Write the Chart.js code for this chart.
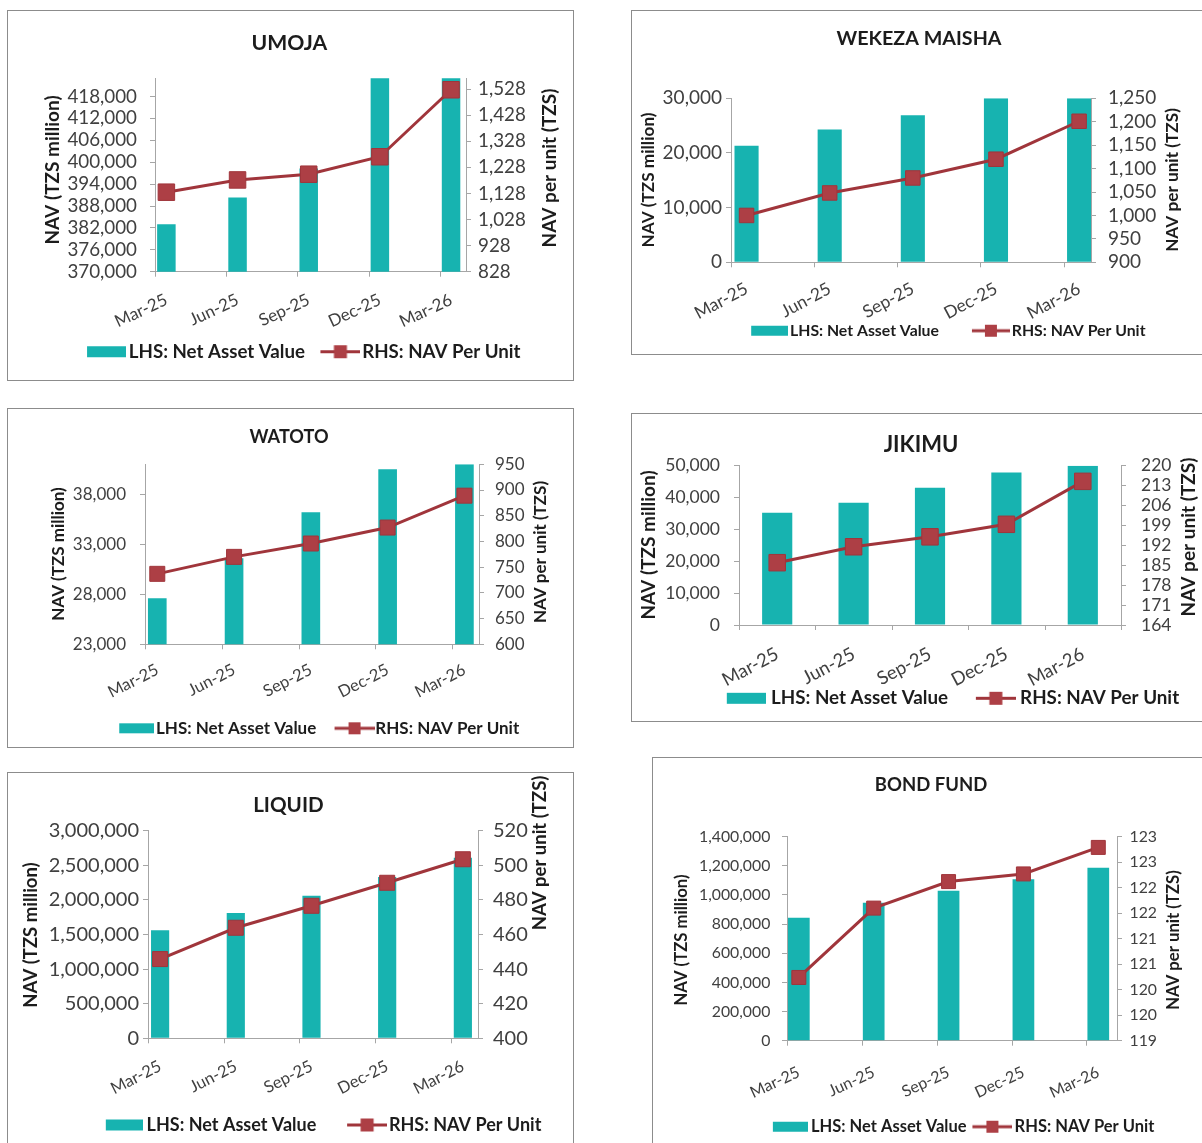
<!DOCTYPE html>
<html><head><meta charset="utf-8">
<script src="https://cdn.jsdelivr.net/npm/chart.js@4.4.1/dist/chart.umd.min.js"></script>
<style>
html,body{margin:0;padding:0;background:#fff;}
body{width:1202px;height:1143px;overflow:hidden;position:relative;}
.box{position:absolute;border:1px solid #8c8c8c;box-sizing:border-box;background:#fff;}
.box canvas{position:absolute;left:0;top:0;}
</style></head><body>
<script>
// ---------- DATA ----------
const categories = ['Mar-25', 'Jun-25', 'Sep-25', 'Dec-25', 'Mar-26'];

const umojaNAV  = [383000, 390300, 398300, 425000, 430000];
const umojaUnit = [1133, 1180, 1202, 1269, 1526];
const umojaLeftTicks  = [370000, 376000, 382000, 388000, 394000, 400000, 406000, 412000, 418000];
const umojaRightTicks = [828, 928, 1028, 1128, 1228, 1328, 1428, 1528];

const wekezaNAV  = [21300, 24300, 26900, 30000, 30000];
const wekezaUnit = [1000, 1048, 1080, 1120, 1201];
const wekezaLeftTicks  = [0, 10000, 20000, 30000];
const wekezaRightTicks = [900, 950, 1000, 1050, 1100, 1150, 1200, 1250];

const watotoNAV  = [27600, 31600, 36200, 40500, 41000];
const watotoUnit = [737, 770, 796, 827, 889];
const watotoLeftTicks  = [23000, 28000, 33000, 38000];
const watotoRightTicks = [600, 650, 700, 750, 800, 850, 900, 950];

const jikimuNAV  = [35200, 38400, 43100, 47900, 50000];
const jikimuUnit = [185.9, 191.5, 195.0, 199.4, 214.5];
const jikimuLeftTicks  = [0, 10000, 20000, 30000, 40000, 50000];
const jikimuRightTicks = [164, 171, 178, 185, 192, 199, 206, 213, 220];

const liquidNAV  = [1560000, 1810000, 2060000, 2330000, 2610000];
const liquidUnit = [445.8, 463.9, 476.6, 489.9, 503.5];
const liquidLeftTicks  = [0, 500000, 1000000, 1500000, 2000000, 2500000, 3000000];
const liquidRightTicks = [400, 420, 440, 460, 480, 500, 520];

const bondNAV  = [844000, 947000, 1029000, 1108000, 1187000];
const bondUnit = [120.24, 121.6, 122.12, 122.27, 122.79];
const bondLeftTicks   = [0, 200000, 400000, 600000, 800000, 1000000, 1200000, 1400000];
const bondRightTicks  = [119, 119.5, 120, 120.5, 121, 121.5, 122, 122.5, 123];
const bondRightLabels = ['119', '120', '120', '121', '121', '122', '122', '123', '123'];

const legendBarText  = 'LHS: Net Asset Value';
const legendLineText = 'RHS: NAV Per Unit';
const leftAxisTitle  = 'NAV (TZS million)';
const rightAxisTitle = 'NAV per unit (TZS)';

// ---------- STYLE / LAYOUT ----------
const FONT = 'Lato, "Open Sans", sans-serif';
const BAR = '#17B3B0', LINE = '#A0353B', MARK = '#AD3F45', AXIS = '#A6A6A6', TXT = '#404040', DARK = '#1c1c1c';

const charts = [
 {title:'UMOJA', nav:umojaNAV, unit:umojaUnit, lt:umojaLeftTicks, rt:umojaRightTicks, lmin:370000, lmax:423000, rmin:828, rmax:1570,
  box:[7,10,567,371], plot:[155,78.3,466,271.7], tx:289.4, ty:42.7, ltx:53, lty:170, rtx:550, rty:168,
  xr:[-0.16,4.21], marks:[-0.16,0.84,1.84,2.84,3.84], bar:0.26, mk:16.5,
  f:{tick:18.8, xl:17, at:19, title:21.2}, rot:25, xpad:13, lpad:13, rpad:7,
  L:{fs:18.7, y:351.7, start:86.8, swW:39, swH:11, swGap:3, lnW:40, lnGap:1.8, between:15.4, mk:13}},
 {title:'WEKEZA MAISHA', nav:wekezaNAV, unit:wekezaUnit, lt:wekezaLeftTicks, rt:wekezaRightTicks, lmin:0, lmax:30000, rmin:900, rmax:1250,
  box:[631,10,580,345], plot:[731,98.3,1091,262.3], tx:919, ty:38.3, ltx:648, lty:180, rtx:1172, rty:180,
  xr:[-0.187,4.143], marks:[-0.187,0.813,1.813,2.813,3.813], bar:0.29, mk:14.5,
  f:{tick:19, xl:17.5, at:17.2, title:19.7}, rot:28, xpad:11, lpad:4, rpad:12,
  L:{fs:15.8, y:330.7, start:751, swW:37, swH:10, swGap:2, lnW:38, lnGap:2, between:32.8, mk:12}},
 {title:'WATOTO', nav:watotoNAV, unit:watotoUnit, lt:watotoLeftTicks, rt:watotoRightTicks, lmin:23000, lmax:41000, rmin:600, rmax:950,
  box:[7,408,567,340], plot:[145,464.3,479,644.3], tx:289, ty:436.7, ltx:59, lty:554, rtx:541, rty:552,
  xr:[-0.16,4.19], marks:[-0.16,0.84,1.84,2.84,3.84], bar:0.243, mk:15,
  f:{tick:17, xl:16.5, at:17, title:18.1}, rot:27, xpad:10.6, lpad:14, rpad:11,
  L:{fs:17, y:728.3, start:119, swW:35, swH:10, swGap:2, lnW:40, lnGap:1, between:18, mk:12}},
 {title:'JIKIMU', nav:jikimuNAV, unit:jikimuUnit, lt:jikimuLeftTicks, rt:jikimuRightTicks, lmin:0, lmax:50000, rmin:164, rmax:220,
  box:[631,413,580,309], plot:[739,465.7,1121,625], tx:921, ty:445, ltx:649, lty:545, rtx:1189, rty:537,
  xr:[-0.5,4.5], marks:[-0.5,0.5,1.5,2.5,3.5,4.5], bar:0.395, mk:16.5,
  f:{tick:17.5, xl:18.5, at:19, title:22}, rot:28, xpad:13, lpad:14, rpad:15,
  L:{fs:18.8, y:698.3, start:727, swW:39, swH:11, swGap:5, lnW:40, lnGap:4, between:28, mk:13}},
 {title:'LIQUID', nav:liquidNAV, unit:liquidUnit, lt:liquidLeftTicks, rt:liquidRightTicks, lmin:0, lmax:3000000, rmin:400, rmax:520,
  box:[7,772,567,420], plot:[148,830.7,478,1038.3], tx:288.4, ty:805, ltx:31, lty:935, rtx:540, rty:853,
  xr:[-0.16,4.2], marks:[-0.16,0.84,1.84,2.84,3.84], bar:0.24, mk:15,
  f:{tick:20, xl:16.5, at:18.5, title:20.6}, rot:27, xpad:13, lpad:4, rpad:10,
  L:{fs:18, y:1125, start:106, swW:37, swH:11, swGap:3.6, lnW:40, lnGap:2, between:30.6, mk:13}},
 {title:'BOND FUND', nav:bondNAV, unit:bondUnit, lt:bondLeftTicks, rt:bondRightTicks, rlabels:bondRightLabels, lmin:0, lmax:1400000, rmin:119, rmax:123,
  box:[652,757,580,420], plot:[787,836.7,1117,1040.7], tx:931, ty:785, ltx:682, lty:940, rtx:1174, rty:940,
  xr:[-0.158,4.25], marks:[-0.158,0.842,1.842,2.842,3.842], bar:0.29, mk:14,
  f:{tick:15.8, xl:16, at:16.7, title:18.5}, rot:25, xpad:17, lpad:11.7, rpad:7.5,
  L:{fs:16.5, y:1126.7, start:773, swW:35, swH:10, swGap:3, lnW:40, lnGap:2, between:6, mk:12}}
];

const fmt = v => v.toLocaleString('en-US');

const decor = {
  id: 'decor',
  afterLayout(chart, args, o) {
    const lg = chart.legend;
    if (!lg) return;
    lg.left = o.legLeft; lg.right = chart.width;
    lg.top = o.legTop; lg.bottom = chart.height;
  },
  afterDraw(chart, args, o) {
    const ctx = chart.ctx, xs = chart.scales.x, ys = chart.scales.y;
    ctx.save();
    ctx.strokeStyle = AXIS; ctx.lineWidth = 1;
    o.marks.forEach(v => {
      const px = Math.round(xs.getPixelForValue(v)) + 0.5;
      ctx.beginPath(); ctx.moveTo(px, ys.bottom); ctx.lineTo(px, ys.bottom + 5); ctx.stroke();
    });
    ctx.fillStyle = DARK; ctx.textAlign = 'center'; ctx.textBaseline = 'middle';
    ctx.font = 'bold ' + o.titleSize + 'px ' + FONT;
    ctx.fillText(o.title, o.tx, o.ty);
    ctx.font = 'bold ' + o.atSize + 'px ' + FONT;
    [[leftAxisTitle, o.ltx, o.lty], [rightAxisTitle, o.rtx, o.rty]].forEach(a => {
      ctx.save(); ctx.translate(a[1], a[2]); ctx.rotate(-Math.PI / 2); ctx.fillText(a[0], 0, 0); ctx.restore();
    });
    ctx.restore();
  }
};

function symbols(L) {
  const fs = L.fs;
  const bwMin = Math.max(L.swW + 2 * L.swGap, L.lnW + 2 * L.lnGap) - fs + 1;
  const bw = Math.max(bwMin, L.between - fs / 2 + L.lnGap + L.lnW - 2);
  const lp = L.between - bw - fs / 2 + L.lnGap + L.lnW;
  const ih = Math.ceil(Math.max(L.swH, L.mk)) + 4;
  function mk(vw, gap, draw) {
    const iw = Math.round(bw + fs - 2 * gap);
    const c = document.createElement('canvas'); c.width = iw; c.height = ih;
    const g = c.getContext('2d');
    draw(g, iw - vw, vw);
    return c;
  }
  const sw = mk(L.swW, L.swGap, (g, x0, vw) => { g.fillStyle = BAR; g.fillRect(x0, (ih - L.swH) / 2, vw, L.swH); });
  const ln = mk(L.lnW, L.lnGap, (g, x0, vw) => {
    g.strokeStyle = LINE; g.lineWidth = 3; g.beginPath(); g.moveTo(x0, ih / 2); g.lineTo(x0 + vw, ih / 2); g.stroke();
    g.fillStyle = MARK; g.fillRect(x0 + vw / 2 - L.mk / 2, ih / 2 - L.mk / 2, L.mk, L.mk);
  });
  return {bw, sw, ln, lp};
}

charts.forEach(S => {
  const [bx, by, bwid, bht] = S.box;
  const ox = bx + 1, oy = by + 1, W = bwid - 2, H = bht - 2;
  const div = document.createElement('div'); div.className = 'box';
  Object.assign(div.style, {left: bx + 'px', top: by + 'px', width: bwid + 'px', height: bht + 'px'});
  const cv = document.createElement('canvas'); cv.width = W; cv.height = H;
  cv.style.width = W + 'px'; cv.style.height = H + 'px';
  div.appendChild(cv); document.body.appendChild(div);

  const L = S.L, sym = symbols(L);
  const legH = L.fs + sym.lp + 10;
  const plotB = S.plot[3] - oy;
  const xh = Math.min(78, H - plotB - legH);
  const padBottom = H - plotB - xh - legH;
  const padTop = S.plot[1] - oy;
  const lw = S.plot[0] - ox;
  const rw = W - (S.plot[2] - ox);
  const legTop = (L.y - oy) - L.fs / 2 - sym.lp;
  const legLeft = (L.start - ox) - (sym.lp + sym.bw + L.fs / 2 - L.swGap - L.swW);

  const tickFont = {family: FONT, size: S.f.tick};
  new Chart(cv, {
    type: 'bar',
    data: {
      datasets: [
        {type: 'line', label: legendLineText, data: S.unit.map((v, i) => ({x: i, y: v})), yAxisID: 'y1',
         borderColor: LINE, borderWidth: 3, pointStyle: 'rect', pointRadius: S.mk / Math.SQRT2,
         pointBackgroundColor: MARK, pointBorderColor: LINE, pointBorderWidth: 1, tension: 0, clip: false, order: 0},
        {type: 'bar', label: legendBarText, data: S.nav.map((v, i) => ({x: i, y: v})), yAxisID: 'y',
         backgroundColor: BAR, borderWidth: 0, barPercentage: S.bar, categoryPercentage: 1, clip: 0, order: 1}
      ]
    },
    options: {
      responsive: false, animation: false, devicePixelRatio: 1, events: [],
      layout: {padding: {left: 0, right: 0, top: padTop, bottom: padBottom}},
      scales: {
        x: {type: 'linear', position: 'bottom', min: S.xr[0], max: S.xr[1], offset: false,
            afterBuildTicks: s => { s.ticks = categories.map((c, i) => ({value: i})); },
            afterFit: s => { s.height = xh; },
            ticks: {autoSkip: false, minRotation: S.rot, maxRotation: S.rot, padding: S.xpad,
                    font: {family: FONT, size: S.f.xl}, color: TXT, callback: (v, i) => categories[i]},
            grid: {display: true, drawOnChartArea: false, drawTicks: true, tickLength: 5, color: 'rgba(0,0,0,0)', offset: false},
            border: {display: true, color: AXIS, width: 1}},
        y: {type: 'linear', position: 'left', min: S.lmin, max: S.lmax,
            afterBuildTicks: s => { s.ticks = S.lt.map(v => ({value: v})); },
            afterFit: s => { s.width = lw; },
            ticks: {autoSkip: false, padding: S.lpad, font: tickFont, color: TXT, callback: v => fmt(v)},
            grid: {display: true, drawOnChartArea: false, drawTicks: true, tickLength: 5, color: AXIS},
            border: {display: true, color: AXIS, width: 1}},
        y1: {type: 'linear', position: 'right', min: S.rmin, max: S.rmax,
            afterBuildTicks: s => { s.ticks = S.rt.map(v => ({value: v})); },
            afterFit: s => { s.width = rw; },
            ticks: {autoSkip: false, padding: S.rpad, font: tickFont, color: TXT,
                    callback: (v, i) => S.rlabels ? S.rlabels[i] : fmt(v)},
            grid: {display: true, drawOnChartArea: false, drawTicks: true, tickLength: 5, color: AXIS},
            border: {display: true, color: AXIS, width: 1}}
      },
      plugins: {
        title: {display: false},
        tooltip: {enabled: false},
        legend: {
          display: true, position: 'bottom', align: 'start',
          labels: {
            usePointStyle: true, pointStyleWidth: sym.bw, padding: sym.lp,
            font: {family: FONT, size: L.fs, weight: 'bold'}, color: DARK,
            generateLabels: () => [
              {text: legendBarText, pointStyle: sym.sw, fillStyle: BAR, strokeStyle: BAR, lineWidth: 0, fontColor: DARK, hidden: false, datasetIndex: 1},
              {text: legendLineText, pointStyle: sym.ln, fillStyle: MARK, strokeStyle: LINE, lineWidth: 0, fontColor: DARK, hidden: false, datasetIndex: 0}
            ]
          }
        },
        decor: {marks: S.marks, title: S.title, titleSize: S.f.title, atSize: S.f.at,
                tx: S.tx - ox, ty: S.ty - oy, ltx: S.ltx - ox, lty: S.lty - oy, rtx: S.rtx - ox, rty: S.rty - oy,
                legLeft: legLeft, legTop: legTop}
      }
    },
    plugins: [decor]
  });
});
</script>
</body></html>
